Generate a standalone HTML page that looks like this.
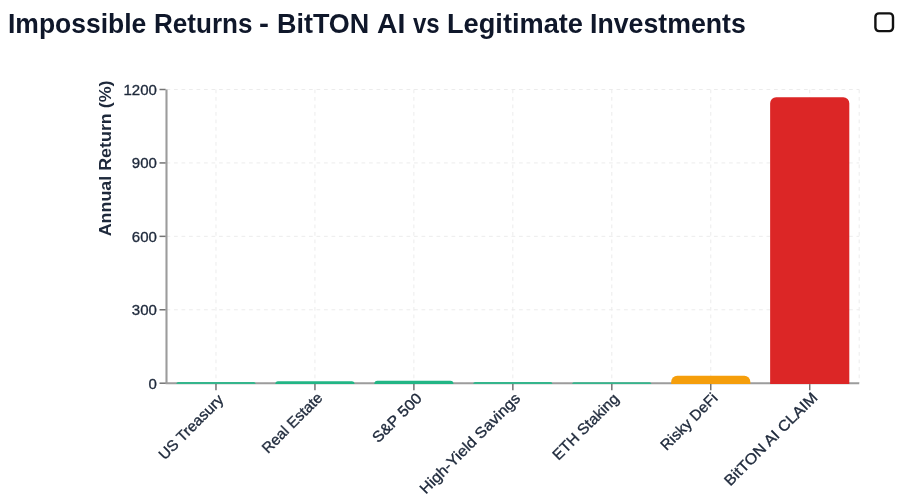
<!DOCTYPE html>
<html><head><meta charset="utf-8"><title>Impossible Returns</title>
<style>
html,body{margin:0;padding:0;background:#fff;}
body{width:910px;height:494px;position:relative;overflow:hidden;font-family:"Liberation Sans",sans-serif;}
h1{position:absolute;left:0;top:7.0px;margin:0;width:800px;height:34px;font-size:26.8px;line-height:34px;font-weight:bold;color:#0f172a;white-space:nowrap;}
h1 span{position:absolute;top:0;display:block;transform-origin:0 0;}
</style></head><body>
<svg width="910" height="494" viewBox="0 0 910 494" style="position:absolute;left:0;top:0">
<g stroke="#ececec" stroke-width="1" stroke-dasharray="3.75 3.75" fill="none">
<line x1="166.5" x2="859.2" y1="383.20" y2="383.20"/>
<line x1="166.5" x2="859.2" y1="309.77" y2="309.77"/>
<line x1="166.5" x2="859.2" y1="236.35" y2="236.35"/>
<line x1="166.5" x2="859.2" y1="162.93" y2="162.93"/>
<line x1="166.5" x2="859.2" y1="89.50" y2="89.50"/>
<line x1="215.98" x2="215.98" y1="89.5" y2="383.2"/>
<line x1="314.94" x2="314.94" y1="89.5" y2="383.2"/>
<line x1="413.89" x2="413.89" y1="89.5" y2="383.2"/>
<line x1="512.85" x2="512.85" y1="89.5" y2="383.2"/>
<line x1="611.81" x2="611.81" y1="89.5" y2="383.2"/>
<line x1="710.76" x2="710.76" y1="89.5" y2="383.2"/>
<line x1="809.72" x2="809.72" y1="89.5" y2="383.2"/>
<line x1="166.5" x2="166.5" y1="89.5" y2="383.2"/>
<line x1="859.2" x2="859.2" y1="89.5" y2="383.2"/>
</g>
<g stroke="#9c9c9c" stroke-width="2.1" fill="none">
<line x1="166.5" x2="166.5" y1="89.5" y2="384.09999999999997"/>
<line x1="165.6" x2="859.2" y1="383.2" y2="383.2"/>
</g>
<g stroke="#747474" stroke-width="1.5" fill="none">
<line x1="159.5" x2="165.6" y1="383.20" y2="383.20"/>
<line x1="159.5" x2="165.6" y1="309.77" y2="309.77"/>
<line x1="159.5" x2="165.6" y1="236.35" y2="236.35"/>
<line x1="159.5" x2="165.6" y1="162.93" y2="162.93"/>
<line x1="159.5" x2="165.6" y1="89.50" y2="89.50"/>
<line x1="215.98" x2="215.98" y1="384.09999999999997" y2="390.2"/>
<line x1="314.94" x2="314.94" y1="384.09999999999997" y2="390.2"/>
<line x1="413.89" x2="413.89" y1="384.09999999999997" y2="390.2"/>
<line x1="512.85" x2="512.85" y1="384.09999999999997" y2="390.2"/>
<line x1="611.81" x2="611.81" y1="384.09999999999997" y2="390.2"/>
<line x1="710.76" x2="710.76" y1="384.09999999999997" y2="390.2"/>
<line x1="809.72" x2="809.72" y1="384.09999999999997" y2="390.2"/>
</g>
<path fill="#35b58c" d="M176.40,383.90 L176.40,383.90 A1.80,1.80 0 0 1 178.20,382.10 L253.76,382.10 A1.80,1.80 0 0 1 255.56,383.90 L255.56,383.90 Z"/>
<path fill="#22b585" d="M275.35,383.90 L275.35,383.90 A2.66,2.66 0 0 1 278.01,381.24 L351.86,381.24 A2.66,2.66 0 0 1 354.52,383.90 L354.52,383.90 Z"/>
<path fill="#22b585" d="M374.31,383.90 L374.31,383.90 A3.15,3.15 0 0 1 377.46,380.75 L450.33,380.75 A3.15,3.15 0 0 1 453.48,383.90 L453.48,383.90 Z"/>
<path fill="#35b58c" d="M473.27,383.90 L473.27,383.90 A1.92,1.92 0 0 1 475.19,381.98 L550.51,381.98 A1.92,1.92 0 0 1 552.43,383.90 L552.43,383.90 Z"/>
<path fill="#35b58c" d="M572.22,383.90 L572.22,383.90 A1.68,1.68 0 0 1 573.90,382.22 L649.71,382.22 A1.68,1.68 0 0 1 651.39,383.90 L651.39,383.90 Z"/>
<path fill="#f59e0b" d="M671.18,383.90 L671.18,381.86 A6.00,6.00 0 0 1 677.18,375.86 L744.35,375.86 A6.00,6.00 0 0 1 750.35,381.86 L750.35,383.90 Z"/>
<path fill="#dc2626" d="M770.14,383.90 L770.14,103.33 A6.00,6.00 0 0 1 776.14,97.33 L843.30,97.33 A6.00,6.00 0 0 1 849.30,103.33 L849.30,383.90 Z"/>
<g font-family="Liberation Sans, sans-serif" font-size="15" fill="#1e293b" text-anchor="end" stroke="#1e293b" stroke-width="0.35">
<text x="156.9" y="388.50">0</text>
<text x="156.9" y="315.07">300</text>
<text x="156.9" y="241.65">600</text>
<text x="156.9" y="168.23">900</text>
<text x="156.9" y="94.80">1200</text>
</g>
<g font-family="Liberation Sans, sans-serif" font-size="15" text-anchor="end" stroke-width="0.35">
<text x="224.40" y="400.72" fill="#1e293b" stroke="#1e293b" textLength="84.49" lengthAdjust="spacingAndGlyphs" transform="rotate(-45 224.40 400.72)">US Treasury</text>
<text x="323.40" y="398.80" fill="#1e293b" stroke="#1e293b" textLength="78.49" lengthAdjust="spacingAndGlyphs" transform="rotate(-45 323.40 398.80)">Real Estate</text>
<text x="422.72" y="399.12" fill="#1e293b" stroke="#1e293b" textLength="62.81" lengthAdjust="spacingAndGlyphs" transform="rotate(-45 422.72 399.12)">S&amp;P 500</text>
<text x="521.20" y="399.30" fill="#1e293b" stroke="#1e293b" textLength="135.00" lengthAdjust="spacingAndGlyphs" transform="rotate(-45 521.20 399.30)">High-Yield Savings</text>
<text x="619.76" y="399.60" fill="#1e293b" stroke="#1e293b" textLength="86.68" lengthAdjust="spacingAndGlyphs" transform="rotate(-45 619.76 399.60)">ETH Staking</text>
<text x="718.60" y="399.12" fill="#1e293b" stroke="#1e293b" textLength="73.73" lengthAdjust="spacingAndGlyphs" transform="rotate(-45 718.60 399.12)">Risky DeFi</text>
<text x="818.40" y="398.48" fill="#1e293b" stroke="#1e293b" textLength="124.73" lengthAdjust="spacingAndGlyphs" transform="rotate(-45 818.40 398.48)">BitTON AI CLAIM</text>
</g>
<text font-family="Liberation Sans, sans-serif" font-size="17.3" font-weight="bold" fill="#1e293b" text-anchor="middle" textLength="155.8" lengthAdjust="spacingAndGlyphs" transform="rotate(-90 111.0 158.4)" x="111.0" y="158.4">Annual Return (%)</text>
<rect x="875.4" y="13.4" width="17.6" height="17.7" rx="3.6" fill="none" stroke="#111" stroke-width="2.4"/>
</svg>
<h1 id="title"><span style="left:7.82px;transform:scaleX(0.9883)">Impossible</span> <span style="left:153.66px;transform:scaleX(0.9724)">Returns</span> <span style="left:259.19px;transform:scaleX(1.1143)">-</span> <span style="left:277.29px;transform:scaleX(1.0045)">BitTON</span> <span style="left:376.54px;transform:scaleX(1.0583)">AI</span> <span style="left:412.60px;transform:scaleX(0.8966)">vs</span> <span style="left:446.77px;transform:scaleX(1.0145)">Legitimate</span> <span style="left:589.91px;transform:scaleX(0.9961)">Investments</span></h1>
</body></html>
